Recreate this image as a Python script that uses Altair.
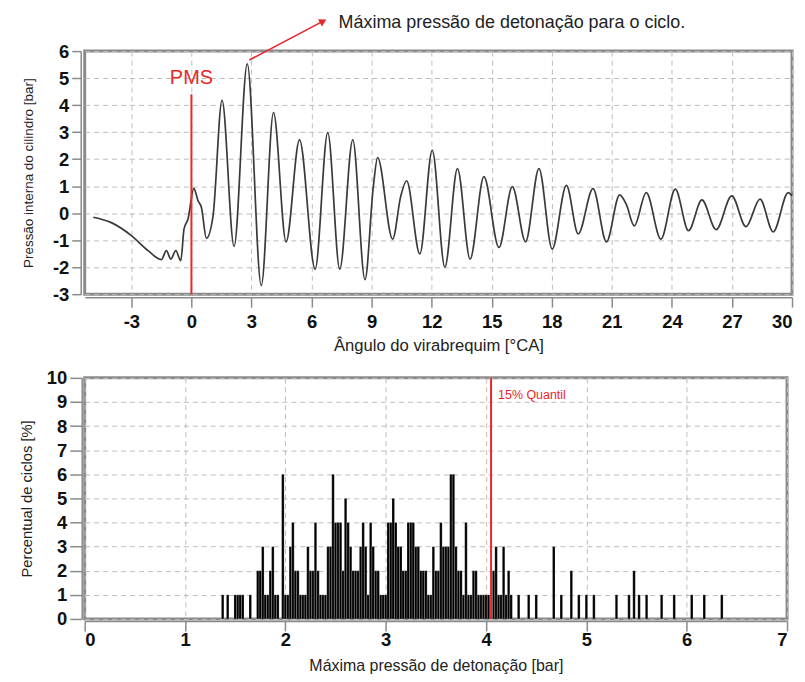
import altair as alt
import pandas as pd

FONT = "Liberation Sans"

# ---------------- top panel: pressure trace ----------------
angle = [-4.9, -4.0, -3.0, -2.16, -1.5, -1.25, -1.03, -0.78, -0.53, -0.37, -0.17, 0.12, 0.33, 0.5,
         0.75, 1.08, 1.53, 2.13, 2.79, 3.49, 4.10, 4.73, 5.40, 6.18, 6.81, 7.41, 8.06, 8.67, 9.09,
         9.30, 10.05, 10.46, 10.75, 11.41, 12.03, 12.66, 13.29, 13.92, 14.61, 15.36, 16.03, 16.69,
         17.36, 18.02, 18.73, 19.32, 20.06, 20.73, 21.39, 21.72, 22.12, 22.72, 23.45, 24.17, 24.83,
         25.5, 26.21, 26.99, 27.70, 28.40, 29.06, 29.81, 30.0]
pressure = [-0.15, -0.35, -0.83, -1.39, -1.72, -1.39, -1.70, -1.39, -1.76, -0.59, -0.22, 0.92, 0.46,
            0.21, -0.93, -0.1, 4.18, -1.23, 5.53, -2.68, 3.72, -1.06, 2.71, -2.07, 2.98, -2.07, 2.71,
            -2.46, 1.01, 2.06, -0.96, 0.64, 1.2, -1.51, 2.33, -2.0, 1.65, -1.7, 1.35, -1.27, 0.98,
            -1.06, 1.65, -1.33, 1.03, -0.77, 0.91, -1.06, 0.68, 0.33, -0.47, 0.76, -0.96, 0.89,
            -0.65, 0.49, -0.61, 0.64, -0.5, 0.52, -0.69, 0.76, 0.64]

x_ticks_top = [-3, 0, 3, 6, 9, 12, 15, 18, 21, 24, 27, 30]
y_ticks_top = [-3, -2, -1, 0, 1, 2, 3, 4, 5, 6]

pms_label = "PMS"
pms_angle = 0
pms_top = 4.4
peak_text = "Máxima pressão de detonação para o ciclo."
arrow_from = (2.89, 5.67)
arrow_to = (6.58, 7.11)

# ---------------- bottom panel: histogram ----------------
hist_center = [1.375, 1.425, 1.500, 1.525, 1.550, 1.575, 1.650, 1.725, 1.750, 1.775, 1.800, 1.825,
               1.850, 1.875, 1.900, 1.925, 1.975, 2.000, 2.025, 2.050, 2.075, 2.100, 2.125, 2.150,
               2.175, 2.200, 2.225, 2.250, 2.275, 2.300, 2.325, 2.350, 2.375, 2.400, 2.425, 2.450,
               2.475, 2.500, 2.525, 2.550, 2.575, 2.600, 2.625, 2.650, 2.675, 2.700, 2.725, 2.750,
               2.775, 2.800, 2.825, 2.850, 2.875, 2.900, 2.925, 2.950, 2.975, 3.000, 3.025, 3.050,
               3.075, 3.100, 3.125, 3.150, 3.175, 3.200, 3.225, 3.250, 3.275, 3.300, 3.325, 3.350,
               3.375, 3.400, 3.425, 3.450, 3.475, 3.500, 3.525, 3.550, 3.575, 3.600, 3.625, 3.650,
               3.675, 3.700, 3.725, 3.750, 3.775, 3.800, 3.825, 3.850, 3.875, 3.900, 3.925, 3.950,
               3.975, 4.000, 4.025, 4.075, 4.100, 4.125, 4.150, 4.175, 4.200, 4.225, 4.250, 4.325,
               4.425, 4.500, 4.675, 4.750, 4.850, 4.925, 5.000, 5.075, 5.300, 5.425, 5.475, 5.525,
               5.600, 5.750, 5.875, 6.050, 6.175, 6.350]
hist_pct = [1, 1, 1, 1, 1, 1, 1, 2, 2, 3, 1, 1,
            2, 3, 1, 1, 6, 1, 1, 3, 4, 2, 2, 1,
            1, 1, 3, 2, 2, 4, 2, 1, 1, 1, 3, 3,
            6, 4, 4, 4, 2, 5, 4, 3, 2, 2, 2, 3,
            4, 3, 1, 4, 3, 2, 2, 1, 1, 1, 4, 4,
            5, 4, 3, 3, 2, 2, 4, 4, 4, 3, 3, 2,
            2, 2, 1, 1, 3, 2, 2, 4, 3, 3, 3, 6,
            6, 3, 2, 2, 1, 4, 1, 1, 2, 2, 1, 1,
            1, 1, 1, 2, 3, 1, 1, 3, 1, 2, 1, 1,
            1, 1, 3, 1, 2, 1, 1, 1, 1, 1, 2, 1,
            1, 1, 1, 1, 1, 1]
BIN = 0.025

x_ticks_bot = [0, 1, 2, 3, 4, 5, 6, 7]
y_ticks_bot = [0, 1, 2, 3, 4, 5, 6, 7, 8, 9, 10]
quantile_value = 4.05
quantile_label = "15% Quantil"

RED = "#e8282b"
AX = "#8a8a8a"
LABEL_EXPR = "'' + datum.value"

common_axis = dict(labelFont=FONT, labelFontSize=18.5, labelFontWeight="bold",
                   labelColor="#111111", labelOverlap=False, labelExpr=LABEL_EXPR,
                   titleColor="#222222", titleFontWeight="normal", titleFont=FONT,
                   domainColor=AX, domainWidth=1.5, tickColor=AX, tickWidth=1.5,
                   gridColor="#bdbdbd", gridDash=[5, 4], gridWidth=1)

# ---------------- top chart ----------------
line_df = pd.DataFrame({"angle": angle, "pressure": pressure})

xt = alt.X("angle:Q", scale=alt.Scale(domain=[-5.33, 30], nice=False, zero=False),
           axis=alt.Axis(values=x_ticks_top, tickCount=len(x_ticks_top),
                         title="Ângulo do virabrequim [°CA]",
                         titleFontSize=16.7, offset=3, tickSize=10,
                         labelPadding=5, titlePadding=7, labelFlush=True, **common_axis))
yt = alt.Y("pressure:Q", scale=alt.Scale(domain=[-3, 6], nice=False, zero=False),
           axis=alt.Axis(values=y_ticks_top, tickCount=len(y_ticks_top),
                         title="Pressão interna do cilindro [bar]",
                         titleFontSize=13.5, offset=4, tickSize=9,
                         labelPadding=3, titlePadding=17, **common_axis))

trace = alt.Chart(line_df).mark_line(color="#3a3a3a", strokeWidth=1.7,
                                     interpolate="monotone").encode(x=xt, y=yt)

pms_df = pd.DataFrame({"angle": [pms_angle], "pressure": [pms_top], "pressure2": [-3]})
pms_rule = alt.Chart(pms_df).mark_rule(color=RED, strokeWidth=2).encode(
    x="angle:Q", y="pressure:Q", y2="pressure2:Q")
pms_txt_df = pd.DataFrame({"angle": [pms_angle], "pressure": [5.0], "t": [pms_label]})
pms_txt = alt.Chart(pms_txt_df).mark_text(color=RED, font=FONT, fontSize=20, align="center",
                                          baseline="middle").encode(
    x="angle:Q", y="pressure:Q", text="t:N")

arrow_df = pd.DataFrame({"angle": [arrow_from[0]], "pressure": [arrow_from[1]],
                         "angle2": [arrow_to[0]], "pressure2": [arrow_to[1]]})
arrow = alt.Chart(arrow_df).mark_rule(color=RED, strokeWidth=1.6).encode(
    x="angle:Q", y="pressure:Q", x2="angle2:Q", y2="pressure2:Q")
head_df = pd.DataFrame({"angle": [arrow_to[0]], "pressure": [arrow_to[1]]})
head = alt.Chart(head_df).mark_point(shape="triangle-right", filled=True, color=RED, size=70,
                                     angle=332, opacity=1).encode(x="angle:Q", y="pressure:Q")
ann_df = pd.DataFrame({"angle": [7.35], "pressure": [7.05], "t": [peak_text]})
ann = alt.Chart(ann_df).mark_text(font=FONT, fontSize=18, align="left", baseline="middle",
                                  color="#222222").encode(x="angle:Q", y="pressure:Q", text="t:N")

top = alt.layer(trace, pms_rule, pms_txt, arrow, head, ann).properties(width=710, height=244)

# ---------------- bottom chart ----------------
hist_df = pd.DataFrame({"c": hist_center, "pct": hist_pct})
hist_df["x0"] = hist_df["c"] - BIN / 2
hist_df["x1"] = hist_df["c"] + BIN / 2

xb = alt.X("x0:Q", scale=alt.Scale(domain=[0, 7], nice=False, zero=False),
           axis=alt.Axis(values=x_ticks_bot, tickCount=len(x_ticks_bot),
                         title="Máxima pressão de detonação [bar]",
                         titleFontSize=16, offset=2, tickSize=10,
                         labelPadding=0, titlePadding=8, **common_axis))
yb = alt.Y("pct:Q", scale=alt.Scale(domain=[0, 10], nice=False),
           axis=alt.Axis(values=y_ticks_bot, tickCount=len(y_ticks_bot),
                         title="Percentual de ciclos [%]",
                         titleFontSize=14.8, offset=3, tickSize=12,
                         labelPadding=3, titlePadding=12, **common_axis))

bars = alt.Chart(hist_df).mark_bar(color="black", stroke="white", strokeWidth=0.2).encode(
    x=xb, x2="x1:Q", y=yb, y2=alt.datum(0))

q_df = pd.DataFrame({"x0": [quantile_value]})
q_rule = alt.Chart(q_df).mark_rule(color=RED, strokeWidth=2).encode(x="x0:Q")
q_txt_df = pd.DataFrame({"x0": [quantile_value + 0.07], "pct": [9.3], "t": [quantile_label]})
q_txt = alt.Chart(q_txt_df).mark_text(color=RED, font=FONT, fontSize=12.5, align="left",
                                      baseline="middle").encode(x="x0:Q", y="pct:Q", text="t:N")

bottom = alt.layer(bars, q_rule, q_txt).properties(width=705, height=242)

chart = alt.vconcat(top, bottom, spacing=11).properties(
    padding={"left": 9, "top": 3, "right": 0, "bottom": 0}
).configure_view(stroke=AX, strokeWidth=3)

chart.save("out.html", embed_options={"renderer": "svg", "actions": False})
